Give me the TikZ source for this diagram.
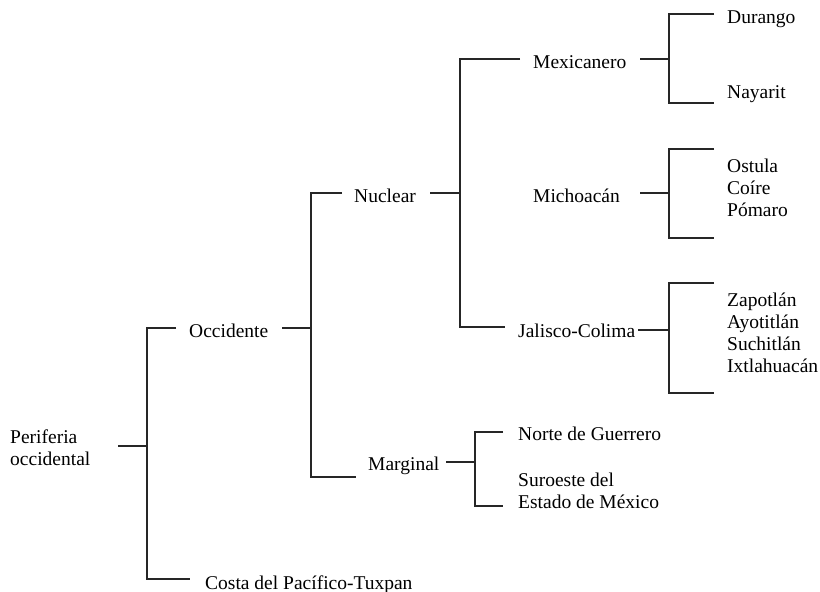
\documentclass[tikz,border=0pt]{standalone}
\usepackage{fontspec}
\setmainfont{Liberation Serif}
\begin{document}
\begin{tikzpicture}[x=1pt,y=-1pt,
  lbl/.style={anchor=base west,inner sep=0pt,font=\fontsize{19.5}{22}\selectfont,align=left},
  conn/.style={line width=1.2pt,color=black!85}]
\useasboundingbox (0,0) rectangle (820,592);
% text nodes (anchor = baseline of the last line)
\node[lbl] (root) at (10,465) {Periferia\\occidental};
\node[lbl] (occ) at (189,337) {Occidente};
\node[lbl] (costa) at (205,589) {Costa del Pacífico-Tuxpan};
\node[lbl] (nuc) at (354,202) {Nuclear};
\node[lbl] (marg) at (368,470) {Marginal};
\node[lbl] (mex) at (533,68) {Mexicanero};
\node[lbl] (mich) at (533,202) {Michoacán};
\node[lbl] (jal) at (518,337) {Jalisco-Colima};
\node[lbl] (dur) at (727,23) {Durango};
\node[lbl] (nay) at (727,98) {Nayarit};
\node[lbl] (ost) at (727,216.5) {Ostula\\Coíre\\Pómaro};
\node[lbl] (zap) at (727,372) {Zapotlán\\Ayotitlán\\Suchitlán\\Ixtlahuacán};
\node[lbl] (norte) at (518,440) {Norte de Guerrero};
\node[lbl] (suro) at (518,508) {Suroeste del\\Estado de México};
% connector coordinates
\coordinate (root-out) at (118,446);  \coordinate (j0) at (147,446);
\coordinate (occ-in) at (176,328);    \coordinate (costa-in) at (190,579);
\coordinate (occ-out) at (282,328);   \coordinate (j1) at (311,328);
\coordinate (nuc-in) at (342,193);    \coordinate (marg-in) at (356,477);
\coordinate (nuc-out) at (430,193);   \coordinate (j2) at (460,193);
\coordinate (mex-in) at (520,59);     \coordinate (jal-in) at (505,327);
\coordinate (mex-out) at (640,59);    \coordinate (j3) at (669,59);
\coordinate (dur-in) at (714,14);     \coordinate (nay-in) at (714,103);
\coordinate (mich-out) at (640,193);  \coordinate (j4) at (669,193);
\coordinate (ost-top) at (714,149);   \coordinate (ost-bot) at (714,238);
\coordinate (jal-out) at (638,330);   \coordinate (j5) at (669,330);
\coordinate (zap-top) at (714,283);   \coordinate (zap-bot) at (714,393);
\coordinate (marg-out) at (446,462);  \coordinate (j6) at (475,462);
\coordinate (norte-in) at (503,432);  \coordinate (suro-in) at (503,506);
% connectors
\draw[conn] (root-out) -- (j0);
\draw[conn] (occ-in) -- (occ-in -| j0) -- (costa-in -| j0) -- (costa-in);
\draw[conn] (occ-out) -- (j1);
\draw[conn] (nuc-in) -- (nuc-in -| j1) -- (marg-in -| j1) -- (marg-in);
\draw[conn] (nuc-out) -- (j2);
\draw[conn] (mex-in) -- (mex-in -| j2) -- (jal-in -| j2) -- (jal-in);
\draw[conn] (mex-out) -- (j3);
\draw[conn] (dur-in) -- (dur-in -| j3) -- (nay-in -| j3) -- (nay-in);
\draw[conn] (mich-out) -- (j4);
\draw[conn] (ost-top) -- (ost-top -| j4) -- (ost-bot -| j4) -- (ost-bot);
\draw[conn] (jal-out) -- (j5);
\draw[conn] (zap-top) -- (zap-top -| j5) -- (zap-bot -| j5) -- (zap-bot);
\draw[conn] (marg-out) -- (j6);
\draw[conn] (norte-in) -- (norte-in -| j6) -- (suro-in -| j6) -- (suro-in);
\end{tikzpicture}
\end{document}
